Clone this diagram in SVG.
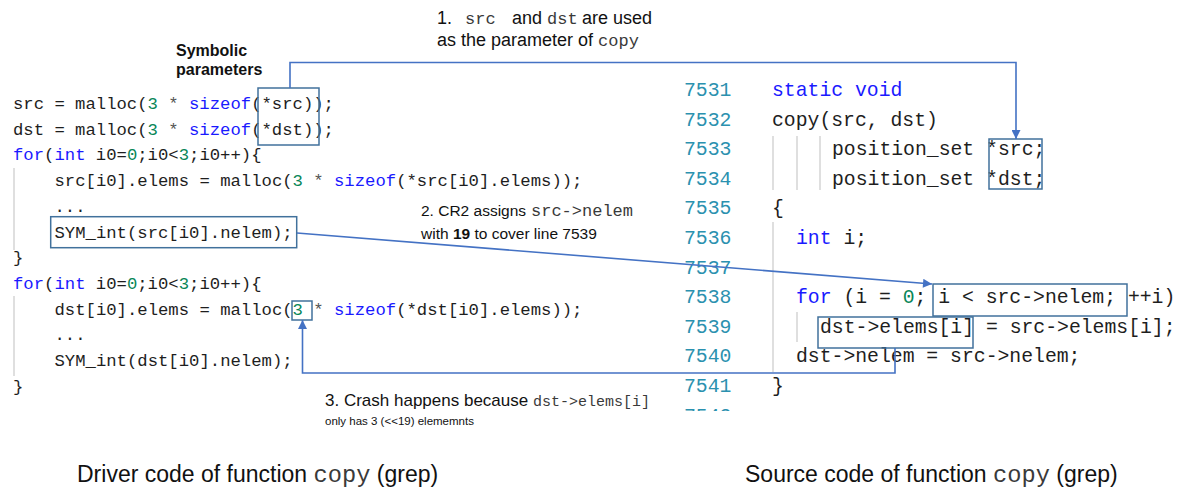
<svg xmlns="http://www.w3.org/2000/svg" width="1187" height="490" viewBox="0 0 1187 490">
  <style>
    .code { font-family: "Liberation Mono", "DejaVu Sans Mono", monospace; fill: #1e1e1e; white-space: pre; }
    .lc { font-size: 17.25px; }
    .rc { font-size: 19.75px; }
    .kw { fill: #1a1aff; }
    .num { fill: #098658; }
    .op { fill: #555555; }
    .ln { fill: #2b91af; }
    .sans { font-family: "Liberation Sans", Arial, sans-serif; fill: #111111; white-space: pre; }
    .mono { font-family: "Liberation Mono", "Courier New", monospace; fill: #3a3a3a; }
    .guide { stroke: #d4d4d4; stroke-width: 1.5; fill: none; }
    .hl { fill: none; stroke: #41719c; stroke-width: 1.5; }
    .conn { fill: none; stroke: #4472c4; stroke-width: 1.6; }
  </style>
  <defs>
    <marker id="arrow" viewBox="0 0 10 10" refX="10" refY="5" markerWidth="10" markerHeight="9" markerUnits="userSpaceOnUse" orient="auto">
      <path d="M0,0 L10,5 L0,10 z" fill="#4472c4"/>
    </marker>
    <clipPath id="cutoff">
      <rect x="600" y="0" width="600" height="411"/>
    </clipPath>
  </defs>
  <rect width="1187" height="490" fill="#ffffff"/>

  <!-- Driver code (left) -->
  <g id="driver-code" class="code lc">
    <line class="guide" x1="14" y1="168" x2="14" y2="250"/>
    <line class="guide" x1="14" y1="296" x2="14" y2="376"/>
    <text x="13" y="109" xml:space="preserve">src = malloc(<tspan class="num">3</tspan><tspan class="op"> * </tspan><tspan class="kw">sizeof</tspan>(*src));</text>
    <text x="13" y="134.7" xml:space="preserve">dst = malloc(<tspan class="num">3</tspan><tspan class="op"> * </tspan><tspan class="kw">sizeof</tspan>(*dst));</text>
    <text x="13" y="160.4" xml:space="preserve"><tspan class="kw">for</tspan>(<tspan class="kw">int</tspan> i0=<tspan class="num">0</tspan>;i0&lt;<tspan class="num">3</tspan>;i0++){</text>
    <text x="54.5" y="186.1" xml:space="preserve">src[i0].elems = malloc(<tspan class="num">3</tspan><tspan class="op"> * </tspan><tspan class="kw">sizeof</tspan>(*src[i0].elems));</text>
    <text x="54.5" y="211.8">...</text>
    <text x="54.5" y="237.5">SYM_int(src[i0].nelem);</text>
    <text x="13" y="263.2">}</text>
    <text x="13" y="288.9" xml:space="preserve"><tspan class="kw">for</tspan>(<tspan class="kw">int</tspan> i0=<tspan class="num">0</tspan>;i0&lt;<tspan class="num">3</tspan>;i0++){</text>
    <text x="54.5" y="314.6" xml:space="preserve">dst[i0].elems = malloc(<tspan class="num">3</tspan><tspan class="op"> * </tspan><tspan class="kw">sizeof</tspan>(*dst[i0].elems));</text>
    <text x="54.5" y="340.3">...</text>
    <text x="54.5" y="366">SYM_int(dst[i0].nelem);</text>
    <text x="13" y="391.7">}</text>
  </g>

  <!-- Highlight boxes on the driver code -->
  <g id="box-symbolic-params">
    <rect class="hl" x="258" y="88" width="61" height="57"/>
  </g>
  <g id="box-sym-int">
    <rect class="hl" x="50.7" y="216.7" width="246" height="31"/>
  </g>
  <g id="box-alloc-size">
    <rect class="hl" x="292" y="301" width="20" height="19"/>
  </g>

  <g id="label-symbolic">
    <text class="sans" x="176" y="56" font-size="16" font-weight="bold">Symbolic</text>
    <text class="sans" x="176" y="75" font-size="16" font-weight="bold">parameters</text>
  </g>

  <!-- Source code (right) -->
  <g id="source-code" class="code rc">
    <line class="guide" x1="773" y1="136" x2="773" y2="190"/>
    <line class="guide" x1="797" y1="136" x2="797" y2="190"/>
    <line class="guide" x1="820" y1="136" x2="820" y2="190"/>
    <line class="guide" x1="773" y1="222" x2="773" y2="372"/>
    <line class="guide" x1="797" y1="312" x2="797" y2="342"/>
    <g class="ln">
      <text x="684" y="96">7531</text>
      <text x="684" y="125.6">7532</text>
      <text x="684" y="155.2">7533</text>
      <text x="684" y="184.8">7534</text>
      <text x="684" y="214.4">7535</text>
      <text x="684" y="244">7536</text>
      <text x="684" y="273.6">7537</text>
      <text x="684" y="303.2">7538</text>
      <text x="684" y="332.8">7539</text>
      <text x="684" y="362.4">7540</text>
      <text x="684" y="392">7541</text>
      <text x="684" y="421.6" clip-path="url(#cutoff)">7542</text>
    </g>
    <text x="772" y="96" class="kw">static void</text>
    <text x="772" y="125.6" xml:space="preserve">copy(src, dst)</text>
    <text x="832" y="155.2" xml:space="preserve">position_set *src;</text>
    <text x="832" y="184.8" xml:space="preserve">position_set *dst;</text>
    <text x="772" y="214.4">{</text>
    <text x="796" y="244" xml:space="preserve"><tspan class="kw">int</tspan> i;</text>
    <text x="796" y="303.2" xml:space="preserve"><tspan class="kw">for</tspan> (i = <tspan class="num">0</tspan>; i &lt; src-&gt;nelem; ++i)</text>
    <text x="820" y="332.8" xml:space="preserve">dst-&gt;elems[i] = src-&gt;elems[i];</text>
    <text x="796" y="362.4" xml:space="preserve">dst-&gt;nelem = src-&gt;nelem;</text>
    <text x="772" y="392">}</text>
  </g>

  <!-- Highlight boxes on the source code -->
  <g id="box-params">
    <rect class="hl" x="989" y="139" width="53" height="50"/>
  </g>
  <g id="box-loop-cond">
    <rect class="hl" x="933" y="284" width="194" height="32"/>
  </g>
  <g id="box-write">
    <rect class="hl" x="818" y="317" width="155" height="31"/>
  </g>

  <!-- Connectors -->
  <g id="connectors">
    <path class="conn" d="M290,88 V62.5 H1016 V139" marker-end="url(#arrow)"/>
    <path class="conn" d="M297,233 L932,284" marker-end="url(#arrow)"/>
    <path class="conn" d="M895,348 V373 H302.5 V320" marker-end="url(#arrow)"/>
  </g>

  <!-- Annotations -->
  <g id="note-1" font-size="18">
    <text class="sans" x="437" y="24">1.</text>
    <text class="sans mono" x="465" y="24" font-size="17">src</text>
    <text class="sans" x="512" y="24">and</text>
    <text class="sans mono" x="547" y="24" font-size="17">dst</text>
    <text class="sans" x="582" y="24">are used</text>
    <text class="sans" x="437" y="46" xml:space="preserve">as the parameter of <tspan class="mono" font-size="17">copy</tspan></text>
  </g>
  <g id="note-2">
    <text class="sans" x="421" y="216" font-size="15.5">2. CR2 assigns </text>
    <text class="sans mono" x="531" y="216" font-size="17">src-&gt;nelem</text>
    <text class="sans" x="421" y="239" font-size="15.5" xml:space="preserve">with <tspan font-weight="bold">19</tspan> to cover line 7539</text>
  </g>
  <g id="note-3">
    <text class="sans" x="325" y="406" font-size="17">3. Crash happens because</text>
    <text class="sans mono" x="533" y="406" font-size="15">dst-&gt;elems[i]</text>
    <text class="sans" x="325" y="425" font-size="11.5">only has 3 (&lt;&lt;19) elememnts</text>
  </g>

  <!-- Captions -->
  <g id="caption-driver">
    <text class="sans" x="77" y="482" font-size="23" xml:space="preserve">Driver code of function <tspan class="mono" font-size="23.7">copy</tspan> (grep)</text>
  </g>
  <g id="caption-source">
    <text class="sans" x="745" y="482" font-size="23" xml:space="preserve">Source code of function <tspan class="mono" font-size="23.7">copy</tspan> (grep)</text>
  </g>
</svg>
